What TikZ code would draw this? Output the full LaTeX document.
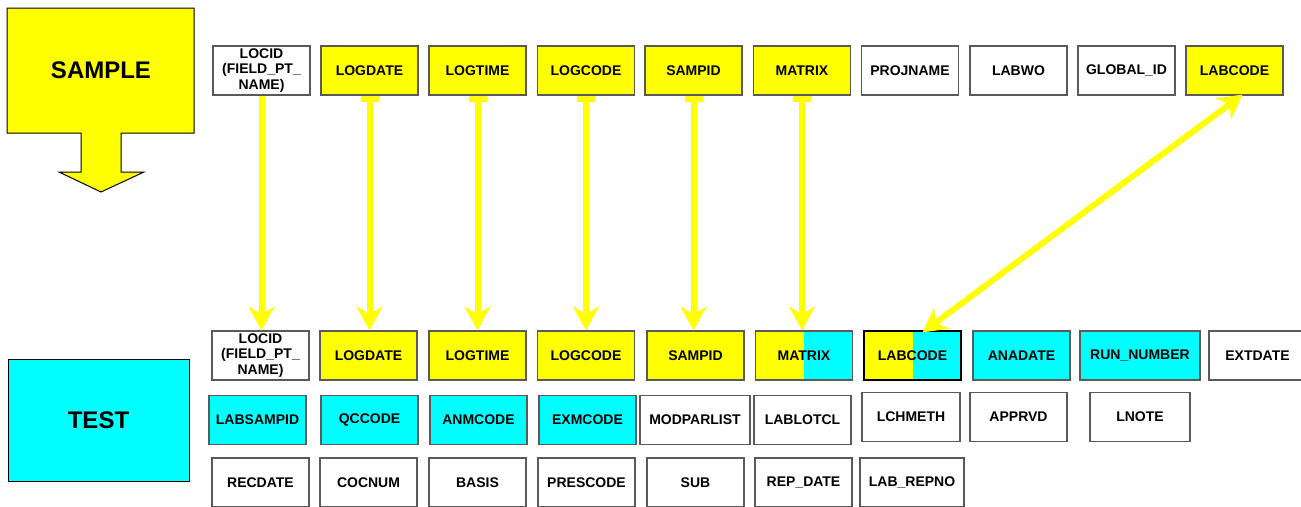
\documentclass[tikz,border=0pt]{standalone}
\usepackage{fontspec}
\setmainfont{Liberation Sans}
\usetikzlibrary{arrows.meta}
\definecolor{ye}{RGB}{255,255,0}
\definecolor{cy}{RGB}{0,255,255}
\definecolor{bordergray}{RGB}{90,90,90}
\newcommand\fldfont{\bfseries\fontsize{14}{15.5}\selectfont}
\newcommand\bigfont{\bfseries\fontsize{24}{28}\selectfont}
\begin{document}
\begin{tikzpicture}[x=1pt,y=-1pt,
  fld/.style={draw=bordergray, line width=1.2pt, minimum width=97pt, minimum height=49pt, inner sep=0pt, font=\fldfont, align=center},
  yel/.style={fld, fill=ye},
  cya/.style={fld, fill=cy},
  wht/.style={fld, fill=white},
  split/.style={fld, path picture={
      \fill[ye] (path picture bounding box.south west) rectangle (path picture bounding box.north);
      \fill[cy] (path picture bounding box.south) rectangle (path picture bounding box.north east);}},
  conn/.style={draw=ye, line width=6pt, -{Stealth[length=24pt,width=26pt,inset=8pt]}},
  conntail/.style={conn, {Square[width=18pt,length=6pt]}-{Stealth[length=24pt,width=26pt,inset=8pt]}},
  conndbl/.style={draw=ye, line width=6pt, {Stealth[length=24pt,width=26pt,inset=8pt]}-{Stealth[length=24pt,width=26pt,inset=8pt]}},
  bigbox/.style={draw=black, line width=1pt}
]
\useasboundingbox (0,0) rectangle (1301,506);
% SAMPLE block arrow
\filldraw[bigbox, fill=ye] (7,8) -- (194,8) -- (194,133) -- (121,133) -- (121,172) -- (144,172) -- (101,192) -- (59,172) -- (81,172) -- (81,133) -- (7,133) -- cycle;
\node[font=\bigfont] (sample) at (101,70) {SAMPLE};
% TEST block
\node[draw=black, line width=1pt, fill=cy, minimum width=181pt, minimum height=122pt, inner sep=0pt, font=\bigfont] (test) at (98.5,420) {TEST};
% top row
\node[wht] (t1) at (261.5,70.5) {LOCID\\(FIELD\_PT\_\\NAME)};
\node[yel] (t2) at (369.5,70.5) {LOGDATE};
\node[yel] (t3) at (477.5,70.5) {LOGTIME};
\node[yel] (t4) at (586,70.5) {LOGCODE};
\node[yel] (t5) at (693.5,70.5) {SAMPID};
\node[yel] (t6) at (802,70.5) {MATRIX};
\node[wht] (t7) at (910,70.5) {PROJNAME};
\node[wht] (t8) at (1018.5,70.5) {LABWO};
\node[wht] (t9) at (1126.5,70.5) {GLOBAL\_ID};
\node[yel] (t10) at (1234.5,70.5) {LABCODE};
% test row 1
\node[wht] (b1) at (260.5,355.5) {LOCID\\(FIELD\_PT\_\\NAME)};
\node[yel] (b2) at (368.5,355.5) {LOGDATE};
\node[yel] (b3) at (477.5,355.5) {LOGTIME};
\node[yel] (b4) at (586,355.5) {LOGCODE};
\node[yel] (b5) at (695.5,355.5) {SAMPID};
\node[split] (b6) at (804,355.5) {MATRIX};
\node[split, draw=black] (b7) at (912.5,355.5) {LABCODE};
\node[cya] (b8) at (1021.5,355.5) {ANADATE};
\node[cya, minimum width=120pt] (b9) at (1140,355.5) {RUN\_NUMBER};
\node[wht] (b10) at (1257.5,355.5) {EXTDATE};
% test row 2
\node[cya] (c1) at (257.5,420) {LABSAMPID};
\node[cya] (c2) at (369.5,420) {QCCODE};
\node[cya] (c3) at (478.5,420) {ANMCODE};
\node[cya] (c4) at (587.5,420) {EXMCODE};
\node[wht, minimum width=110pt] (c5) at (695,420) {MODPARLIST};
\node[wht] (c6) at (802.5,420) {LABLOTCL};
\node[wht, minimum width=98pt] (c7) at (911,417) {LCHMETH};
\node[wht] (c8) at (1018.5,417) {APPRVD};
\node[wht, minimum width=100pt] (c9) at (1140,417) {LNOTE};
% test row 3
\node[wht] (d1) at (260.5,482.5) {RECDATE};
\node[wht] (d2) at (368.5,482.5) {COCNUM};
\node[wht] (d3) at (477.5,482.5) {BASIS};
\node[wht] (d4) at (586.5,482.5) {PRESCODE};
\node[wht] (d5) at (695.5,482.5) {SUB};
\node[wht] (d6) at (803.5,482.5) {REP\_DATE};
\node[wht, minimum width=104pt] (d7) at (912,482.5) {LAB\_REPNO};
% connectors
\draw[conn] (t1.south) -- (t1.south |- b1.north);
\draw[conntail] (t2.south) -- (t2.south |- b2.north);
\draw[conntail] (t3.south) -- (t3.south |- b3.north);
\draw[conntail] (t4.south) -- (t4.south |- b4.north);
\draw[conntail] (t5.south) -- (t5.south |- b5.north);
\draw[conntail] (t6.south) -- (t6.south |- b6.north);
\draw[conndbl] ([xshift=8pt,yshift=1pt]t10.south) -- ([xshift=10pt,yshift=-2pt]b7.north);
\end{tikzpicture}
\end{document}
